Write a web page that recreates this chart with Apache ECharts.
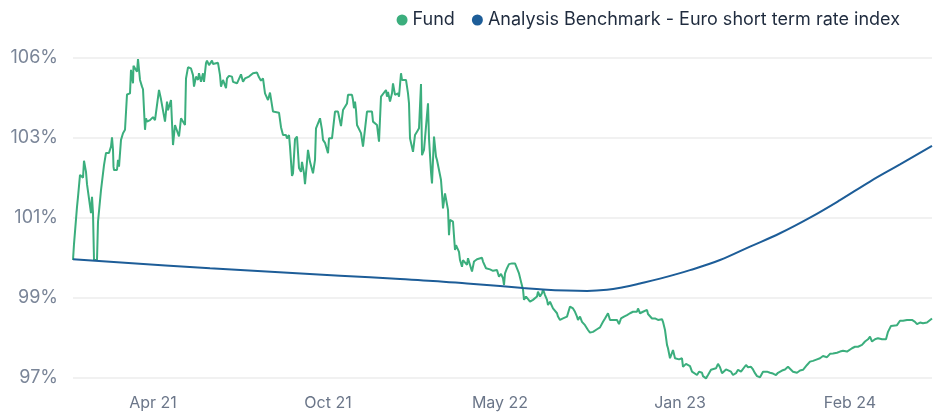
<!DOCTYPE html>
<html><head><meta charset="utf-8">
<script src="https://cdn.jsdelivr.net/npm/echarts@6/dist/echarts.min.js"></script>
<style>html,body{margin:0;padding:0;background:#fff}#c{width:938px;height:417px}</style>
</head><body><div id="c"></div>
<script>
// x = observation index, y = indexed value (%)
const fundSeries = [[0,100.17],[1,100.60],[3,100.62],[4,101.60],[5,101.87],[7,102.46],[10,102.38],[11,102.84],[13,102.54],[14,102.21],[16,102.21],[18,101.43],[19,101.87],[20,101.43],[21,100.17],[24,100.17],[25,101.20],[27,101.25],[28,102.05],[30,102.05],[31,102.72],[32,102.77],[33,103.05],[36,103.05],[38,103.22],[39,103.47],[40,103.13],[40.5,102.68],[41,102.59],[44,102.59],[45,102.86],[46,102.68],[48,103.40],[49,103.42],[50,103.58],[52,103.67],[54,104.62],[57,104.65],[58,105.28],[60,104.92],[60.5,105.39],[62,105.41],[64,105.23],[65,105.57],[67,105.01],[69,104.83],[70,104.76],[72,103.67],[73,103.98],[74,103.89],[77,103.93],[80,104.01],[82,103.93],[84,103.93],[86,104.74],[88,104.49],[90,104.47],[92,103.89],[94,104.43],[95,104.20],[98,104.47],[100,103.26],[102,103.80],[104,103.85],[106,103.49],[108,103.98],[110,103.98],[112,103.80],[113,105.05],[115,105.35],[118,105.32],[120,105.14],[121,104.83],[123,105.10],[125,105.01],[126,105.19],[128,104.96],[130,105.19],[131,104.96],[133,105.46],[134,105.53],[136,105.41],[137,105.46],[139,105.53],[140,105.44],[142,105.47],[145,105.47],[147,105.14],[148,104.83],[150,105.01],[151,104.96],[153,104.79],[154,105.05],[156,105.12],[159,105.10],[160,104.96],[162,104.92],[164,104.92],[165,104.87],[168,105.16],[170,104.96],[172,105.05],[174,105.01],[176,105.10],[180,105.19],[184,105.21],[186,105.08],[188,104.99],[190,105.05],[192,104.65],[194,104.61],[195,104.47],[197,104.67],[199,104.69],[200,104.16],[202,104.13],[206,104.13],[208,103.74],[210,103.53],[212,103.49],[213,103.53],[214,103.44],[216,103.53],[217,103.22],[219,102.43],[220,102.50],[222,103.42],[224,103.49],[225,103.49],[226,102.64],[228,102.54],[229,102.81],[230,102.79],[231,102.50],[232,102.21],[234,102.81],[235,103.13],[237,102.81],[239,102.77],[240,102.50],[242,102.86],[243,103.71],[245,103.74],[247,103.98],[249,103.67],[250,103.40],[252,103.32],[254,103.31],[255,103.04],[256,103.44],[259,103.44],[260,103.42],[262,104.16],[264,104.20],[265,104.16],[267,104.20],[268,103.77],[270,104.20],[272,104.25],[274,104.38],[275,104.61],[276,104.63],[279,104.61],[280,104.47],[281,104.25],[282,104.43],[283,104.20],[284,103.80],[286,103.80],[288,103.58],[290,103.22],[292,103.17],[294,104.16],[296,104.11],[299,104.16],[300,103.89],[302,103.85],[304,103.80],[306,103.35],[308,104.56],[310,104.61],[313,104.74],[314,104.56],[315,104.69],[317,104.43],[319,104.65],[320,104.92],[322,104.61],[324,104.65],[325,104.65],[326,104.56],[328,105.19],[329,105.01],[331,104.96],[333,105.01],[335,104.65],[336,104.38],[337,103.44],[339,103.49],[340,103.08],[342,103.53],[344,103.62],[346,103.71],[348,104.90],[349,102.99],[351,103.13],[353,103.13],[355,104.38],[356,103.44],[358,102.54],[359,102.23],[361,103.49],[363,102.95],[364,102.86],[366,102.86],[368,102.32],[369,101.96],[370,101.56],[372,101.96],[374,101.92],[375,101.52],[376,100.84],[377,101.25],[379,101.29],[380,101.20],[382,100.44],[383,100.57],[384,100.53],[386,100.39],[387,100.17],[389,99.99],[390,100.17],[392,100.22],[394,100.04],[395,100.22],[398,99.95],[399,99.86],[401,100.13],[404,100.19],[406,100.17],[409,100.23],[410,100.13],[413,99.95],[415,99.90],[417,99.92],[420,99.88],[422,99.86],[424,99.90],[426,99.72],[428,99.80],[430,99.68],[431,99.50],[432,99.81],[434,99.95],[436,100.06],[439,100.08],[442,100.08],[444,100.06],[446,99.81],[448,99.59],[450,99.38],[451,99.10],[453,99.19],[455,99.14],[457,99.05],[459,99.01],[460,99.10],[464,99.19],[465,99.32],[467,99.19],[469,99.28],[470,99.38],[472,99.23],[474,99.10],[475,98.96],[477,99.05],[479,99.01],[480,98.87],[482,98.83],[484,98.74],[485,98.65],[487,98.56],[489,98.51],[490,98.60],[492,98.56],[494,98.65],[495,98.69],[497,98.92],[499,98.96],[500,98.87],[502,98.78],[504,98.65],[505,98.56],[507,98.65],[509,98.51],[510,98.56],[512,98.42],[514,98.38],[515,98.29],[517,98.22],[520,98.24],[524,98.31],[527,98.36],[529,98.40],[530,98.51],[532,98.60],[534,98.65],[535,98.74],[537,98.56],[539,98.58],[540,98.56],[542,98.60],[544,98.56],[546,98.45],[548,98.60],[551,98.65],[554,98.69],[555,98.69],[557,98.74],[560,98.78],[562,98.75],[564,98.78],[565,98.87],[567,98.74],[570,98.78],[572,98.75],[574,98.83],[575,98.72],[577,98.69],[579,98.60],[580,98.56],[582,98.60],[584,98.65],[585,98.56],[587,98.51],[589,98.58],[590,98.51],[592,98.29],[594,97.89],[595,97.80],[597,97.53],[599,97.48],[600,97.75],[602,97.53],[604,97.48],[606,97.50],[609,97.53],[610,97.30],[613,97.38],[615,97.38],[617,97.32],[619,97.17],[621,97.13],[624,97.08],[626,97.17],[629,97.14],[630,97.05],[633,96.99],[635,97.08],[638,97.22],[640,97.17],[643,97.26],[645,97.38],[647,97.29],[649,97.13],[650,97.08],[653,97.23],[655,97.22],[658,97.17],[660,97.08],[663,97.13],[665,97.22],[668,97.17],[670,97.22],[673,97.35],[675,97.29],[678,97.30],[680,97.23],[682,97.13],[684,97.05],[687,97.02],[689,97.02],[690,97.17],[694,97.17],[697,97.14],[700,97.12],[703,97.08],[705,97.14],[709,97.20],[712,97.23],[715,97.30],[717,97.26],[720,97.17],[724,97.14],[727,97.20],[730,97.22],[732,97.20],[734,97.35],[737,97.44],[740,97.46],[744,97.50],[747,97.53],[750,97.59],[754,97.56],[757,97.65],[760,97.66],[764,97.68],[767,97.71],[770,97.73],[774,97.71],[775,97.66],[779,97.80],[782,97.84],[785,97.84],[789,97.89],[792,97.98],[795,98.04],[797,98.11],[799,97.98],[802,98.04],[805,98.07],[809,98.04],[813,98.04],[815,98.24],[818,98.40],[820,98.45],[824,98.42],[827,98.54],[830,98.54],[834,98.56],[839,98.56],[842,98.51],[844,98.45],[847,98.49],[850,98.47],[854,98.49],[856,98.54],[859,98.60]];

const benchSeries = [[0,100.19],[137,99.95],[267,99.75],[327,99.66],[360,99.61],[394,99.54],[427,99.47],[450,99.42],[470,99.38],[494,99.35],[514,99.34],[534,99.37],[550,99.44],[567,99.54],[587,99.67],[617,99.90],[647,100.17],[677,100.53],[707,100.89],[737,101.31],[767,101.78],[797,102.28],[827,102.74],[859,103.24]];

const seriesNames = ['Fund', 'Analysis Benchmark - Euro short term rate index'];
const xTickIdx = [80, 255, 427, 607, 777];
const xTickLabels = ['Apr 21', 'Oct 21', 'May 22', 'Jan 23', 'Feb 24'];
const yMin = 97, yMax = 105.6, yStep = 2.15;

const chart = echarts.init(document.getElementById('c'), null, {renderer: 'canvas'});
const FONT = 'Inter, "Noto Sans", sans-serif';
chart.setOption({
  animation: false,
  textStyle: {fontFamily: FONT},
  legend: {
    right: 33, top: 6, icon: 'circle', itemWidth: 11, itemHeight: 11, itemGap: 17,
    textStyle: {fontSize: 18, color: '#1f2b3e', fontFamily: FONT},
    data: seriesNames
  },
  grid: {left: 73, right: 6, top: 58, bottom: 39},
  xAxis: {
    type: 'value', min: 0, max: 859,
    axisLine: {show: false}, axisTick: {show: false}, splitLine: {show: false},
    axisLabel: {
      customValues: xTickIdx,
      formatter: v => { const i = xTickIdx.indexOf(Math.round(v)); return i >= 0 ? xTickLabels[i] : ''; },
      color: '#6b7689', fontSize: 16, margin: 17, fontFamily: FONT
    }
  },
  yAxis: {
    type: 'value', min: yMin, max: yMax, interval: yStep,
    axisLine: {show: false}, axisTick: {show: false},
    splitLine: {lineStyle: {color: '#ececec', width: 1.5}},
    axisLabel: {formatter: v => Math.round(v) + '%', color: '#7a8598', fontSize: 18, margin: 15,
                padding: [0, 0, 5, 0], fontFamily: FONT}
  },
  series: [
    {name: seriesNames[0], type: 'line', data: fundSeries, showSymbol: false, clip: false,
     lineStyle: {color: '#3bae7d', width: 2}, itemStyle: {color: '#3bae7d'}},
    {name: seriesNames[1], type: 'line', data: benchSeries, showSymbol: false, smooth: 0.4, clip: false,
     lineStyle: {color: '#1d5d98', width: 2}, itemStyle: {color: '#1d5d98'}}
  ]
});
</script></body></html>
